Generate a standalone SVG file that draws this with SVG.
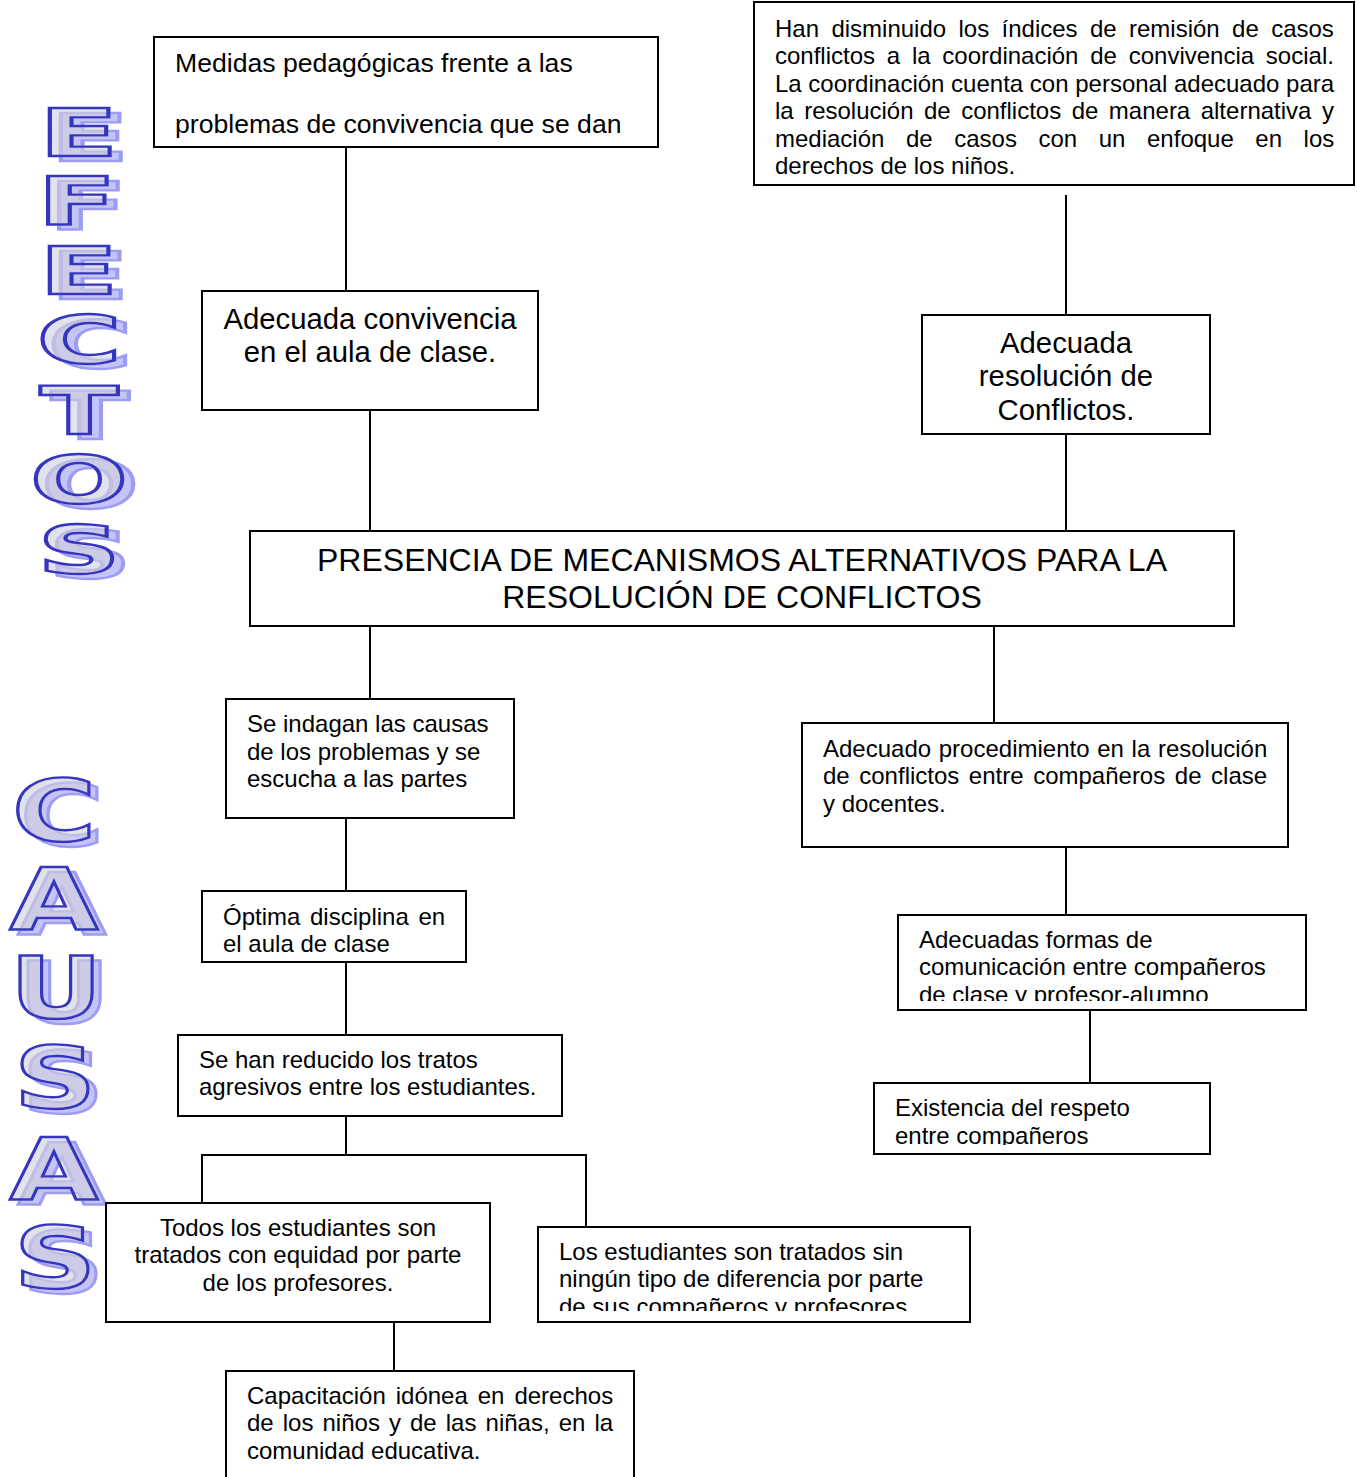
<svg xmlns="http://www.w3.org/2000/svg" width="1357" height="1477" viewBox="0 0 1357 1477">
<style>
.box{fill:#fff;stroke:#000;stroke-width:2}
.t{font-family:"Liberation Sans",Arial,sans-serif;fill:#000}
.s24{font-size:24px}
.s26{font-size:26.6px}
.s29{font-size:29.3px}
.s32{font-size:32px}
.c{text-anchor:middle}
.conn{stroke:#000;stroke-width:2;fill:none}
.wa{font-family:"DejaVu Sans","Liberation Sans",Arial,sans-serif;font-weight:bold;text-anchor:middle;fill:#cfcfdc;fill-opacity:0.6;stroke:#3434c0;stroke-width:2.4;filter:url(#shadow)}
.ef{font-size:66px}
.ca{font-size:85px}
</style>
<defs>
<filter id="shadow" x="-20%" y="-5%" width="150%" height="115%">
<feFlood flood-color="#9c9cf2" result="f"/>
<feComposite in="f" in2="SourceAlpha" operator="in" result="s"/>
<feOffset in="s" dx="6" dy="5" result="o"/>
<feMerge><feMergeNode in="o"/><feMergeNode in="SourceGraphic"/></feMerge>
</filter>
<clipPath id="clipFormas"><rect x="898" y="915" width="408" height="86"/></clipPath>
<clipPath id="clipRespeto"><rect x="874" y="1083" width="336" height="62"/></clipPath>
<clipPath id="clipSin"><rect x="538" y="1227" width="432" height="84"/></clipPath>
</defs>

<g id="connectors">
<line class="conn" x1="346" y1="147" x2="346" y2="291"/>
<line class="conn" x1="1066" y1="195" x2="1066" y2="315"/>
<line class="conn" x1="370" y1="410" x2="370" y2="531"/>
<line class="conn" x1="1066" y1="434" x2="1066" y2="531"/>
<line class="conn" x1="370" y1="626" x2="370" y2="699"/>
<line class="conn" x1="994" y1="626" x2="994" y2="723"/>
<line class="conn" x1="346" y1="818" x2="346" y2="891"/>
<line class="conn" x1="1066" y1="847" x2="1066" y2="915"/>
<line class="conn" x1="346" y1="962" x2="346" y2="1035"/>
<line class="conn" x1="1090" y1="1010" x2="1090" y2="1083"/>
<line class="conn" x1="346" y1="1116" x2="346" y2="1155"/>
<polyline class="conn" points="202,1203 202,1155 586,1155 586,1227"/>
<line class="conn" x1="394" y1="1322" x2="394" y2="1371"/>
</g>

<g id="efectos">
<text class="wa ef" transform="scale(1.75,1)"><tspan x="45" y="156">E</tspan><tspan x="44" y="224">F</tspan><tspan x="45" y="294">E</tspan><tspan x="45.2" y="363">C</tspan><tspan x="45.2" y="434">T</tspan><tspan x="45.2" y="503">O</tspan><tspan x="45.2" y="573">S</tspan></text>
</g>

<g id="causas">
<text class="wa ca" transform="scale(1.35,1)"><tspan x="40" y="841">C</tspan><tspan x="40" y="929">A</tspan><tspan x="41.5" y="1018">U</tspan><tspan x="40.8" y="1108">S</tspan><tspan x="40" y="1199">A</tspan><tspan x="40.8" y="1288">S</tspan></text>
</g>

<g id="n-medidas">
<rect class="box" x="154" y="37" width="504" height="110"/>
<text class="t s26" x="175" y="72">Medidas pedagógicas frente a las</text>
<text class="t s26" x="175" y="133">problemas de convivencia que se dan</text>
</g>

<g id="n-disminuido">
<rect class="box" x="754" y="2" width="600" height="183"/>
<text class="t s24" x="775" y="36.5" word-spacing="5.7">Han disminuido los índices de remisión de casos</text>
<text class="t s24" x="775" y="64" word-spacing="5.1">conflictos a la coordinación de convivencia social.</text>
<text class="t s24" x="775" y="91.5">La coordinación cuenta con personal adecuado para</text>
<text class="t s24" x="775" y="119" word-spacing="3.8">la resolución de conflictos de manera alternativa y</text>
<text class="t s24" x="775" y="146.5" word-spacing="14.9">mediación de casos con un enfoque en los</text>
<text class="t s24" x="775" y="174">derechos de los niños.</text>
</g>

<g id="n-convivencia">
<rect class="box" x="202" y="291" width="336" height="119"/>
<text class="t s29 c" x="370" y="329">Adecuada convivencia</text>
<text class="t s29 c" x="370" y="362">en el aula de clase.</text>
</g>

<g id="n-resolucion">
<rect class="box" x="922" y="315" width="288" height="119"/>
<text class="t s29 c" x="1066" y="353">Adecuada</text>
<text class="t s29 c" x="1066" y="386">resolución de</text>
<text class="t s29 c" x="1066" y="420">Conflictos.</text>
</g>

<g id="n-presencia">
<rect class="box" x="250" y="531" width="984" height="95"/>
<text class="t s32 c" x="742" y="571">PRESENCIA DE MECANISMOS ALTERNATIVOS PARA LA</text>
<text class="t s32 c" x="742" y="608">RESOLUCIÓN DE CONFLICTOS</text>
</g>

<g id="n-indagan">
<rect class="box" x="226" y="699" width="288" height="119"/>
<text class="t s24" x="247" y="731.5">Se indagan las causas</text>
<text class="t s24" x="247" y="759.5">de los problemas y se</text>
<text class="t s24" x="247" y="787">escucha a las partes</text>
</g>

<g id="n-procedimiento">
<rect class="box" x="802" y="723" width="486" height="124"/>
<text class="t s24" x="823" y="756.5" word-spacing="1">Adecuado procedimiento en la resolución</text>
<text class="t s24" x="823" y="784" word-spacing="2.9">de conflictos entre compañeros de clase</text>
<text class="t s24" x="823" y="811.5">y docentes.</text>
</g>

<g id="n-disciplina">
<rect class="box" x="202" y="891" width="264" height="71"/>
<text class="t s24" x="223" y="924.5" word-spacing="3">Óptima disciplina en</text>
<text class="t s24" x="223" y="951.5">el aula de clase</text>
</g>

<g id="n-formas">
<rect class="box" x="898" y="915" width="408" height="95"/>
<g clip-path="url(#clipFormas)">
<text class="t s24" x="919" y="948">Adecuadas formas de</text>
<text class="t s24" x="919" y="975">comunicación entre compañeros</text>
<text class="t s24" x="919" y="1002.5">de clase y profesor-alumno</text>
</g>
</g>

<g id="n-reducido">
<rect class="box" x="178" y="1035" width="384" height="81"/>
<text class="t s24" x="199" y="1067.5">Se han reducido los tratos</text>
<text class="t s24" x="199" y="1095">agresivos entre los estudiantes.</text>
</g>

<g id="n-respeto">
<rect class="box" x="874" y="1083" width="336" height="71"/>
<g clip-path="url(#clipRespeto)">
<text class="t s24" x="895" y="1116">Existencia del respeto</text>
<text class="t s24" x="895" y="1143.5">entre compañeros</text>
</g>
</g>

<g id="n-equidad">
<rect class="box" x="106" y="1203" width="384" height="119"/>
<text class="t s24 c" x="298" y="1235.5">Todos los estudiantes son</text>
<text class="t s24 c" x="298" y="1263">tratados con equidad por parte</text>
<text class="t s24 c" x="298" y="1290.5">de los profesores.</text>
</g>

<g id="n-diferencia">
<rect class="box" x="538" y="1227" width="432" height="95"/>
<g clip-path="url(#clipSin)">
<text class="t s24" x="559" y="1259.5">Los estudiantes son tratados sin</text>
<text class="t s24" x="559" y="1287">ningún tipo de diferencia por parte</text>
<text class="t s24" x="559" y="1314.5">de sus compañeros y profesores</text>
</g>
</g>

<g id="n-capacitacion">
<rect class="box" x="226" y="1371" width="408" height="110"/>
<text class="t s24" x="247" y="1403.5" word-spacing="3.3">Capacitación idónea en derechos</text>
<text class="t s24" x="247" y="1431" word-spacing="2.4">de los niños y de las niñas, en la</text>
<text class="t s24" x="247" y="1458.5">comunidad educativa.</text>
</g>
</svg>
